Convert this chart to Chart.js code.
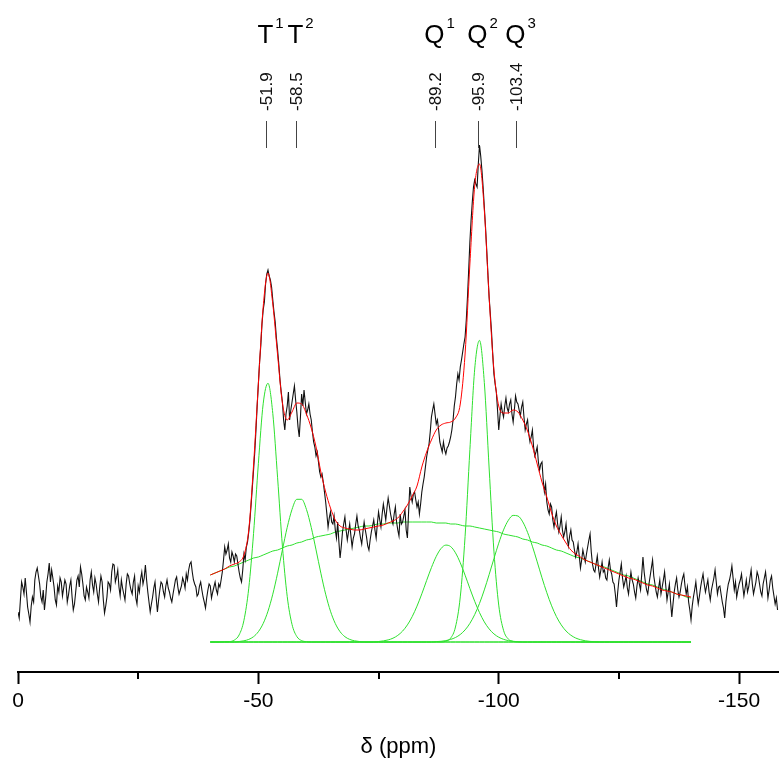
<!DOCTYPE html>
<html>
<head>
<meta charset="utf-8">
<script src="https://cdn.jsdelivr.net/npm/chart.js@4.4.1/dist/chart.umd.min.js"></script>
<style>
  html, body { margin: 0; padding: 0; background: #fff; }
  #wrap { width: 779px; height: 760px; }
</style>
</head>
<body>
<div id="wrap"><canvas id="nmr" width="779" height="760"></canvas></div>
<script>
var specStart = 0;
var specStep = -0.25;
var spectrum = [
  30, 24, 42, 60, 55, 48, 64, 50, 35, 28, 20, 36, 45, 40, 62, 70, 74, 66, 58, 45, 40, 52, 32, 44, 60, 68, 79, 60, 72, 64, 55, 42, 37, 56, 50, 64, 60, 46, 54, 62,
  58, 40, 47, 56, 62, 45, 32, 38, 50, 62, 66, 55, 75, 68, 58, 46, 42, 55, 50, 44, 62, 70, 57, 50, 64, 58, 48, 40, 55, 66, 60, 42, 29, 36, 45, 60, 58, 52, 70, 78,
  77, 60, 65, 72, 55, 46, 62, 54, 48, 42, 58, 68, 66, 58, 52, 48, 60, 66, 44, 38, 56, 50, 63, 70, 58, 64, 77, 62, 50, 40, 30, 38, 45, 54, 60, 44, 30, 42, 52, 60,
  58, 50, 45, 56, 62, 54, 50, 44, 40, 48, 55, 62, 65, 55, 48, 52, 56, 64, 60, 54, 68, 62, 72, 78, 80, 70, 62, 58, 55, 46, 48, 56, 60, 52, 45, 40, 34, 44, 52, 58,
  56, 44, 50, 55, 60, 52, 48, 58, 55, 62, 70, 82, 95, 88, 92, 98, 84, 80, 90, 86, 80, 88, 86, 78, 70, 64, 60, 72, 88, 82, 95, 100, 110, 122, 138, 155, 172, 190, 212, 236,
  258, 280, 296, 318, 332, 340, 358, 368, 372, 366, 362, 355, 342, 330, 320, 304, 292, 278, 262, 250, 240, 222, 212, 228, 236, 250, 222, 232, 240, 248, 256, 242, 230, 215, 205, 225, 248, 236, 252, 240,
  228, 232, 238, 228, 222, 210, 200, 195, 186, 190, 180, 170, 165, 168, 160, 150, 140, 128, 115, 124, 130, 120, 118, 126, 112, 104, 120, 100, 84, 96, 110, 118, 125, 112, 102, 110, 118, 106, 95, 104,
  108, 118, 126, 116, 112, 104, 98, 110, 120, 112, 105, 96, 92, 102, 110, 116, 122, 112, 104, 118, 130, 122, 115, 128, 138, 130, 122, 134, 144, 136, 128, 122, 118, 128, 135, 120, 112, 106, 128, 118,
  120, 126, 132, 112, 104, 130, 155, 146, 140, 148, 150, 142, 135, 140, 128, 138, 150, 158, 165, 175, 185, 192, 198, 210, 225, 232, 238, 228, 218, 222, 212, 200, 195, 190, 200, 192, 188, 194, 196, 200,
  205, 212, 222, 236, 245, 258, 268, 262, 275, 282, 290, 298, 305, 322, 345, 372, 400, 422, 440, 455, 462, 458, 455, 478, 497, 486, 472, 455, 435, 415, 392, 368, 345, 328, 310, 288, 268, 258, 250, 232,
  212, 226, 238, 230, 225, 236, 244, 234, 230, 238, 242, 228, 220, 232, 246, 240, 238, 232, 226, 235, 240, 225, 212, 218, 222, 208, 200, 205, 212, 195, 186, 190, 195, 180, 172, 178, 180, 162, 150, 158,
  140, 132, 128, 138, 135, 122, 115, 124, 130, 118, 110, 116, 125, 112, 105, 110, 118, 104, 96, 106, 112, 102, 100, 92, 85, 90, 98, 86, 74, 82, 92, 86, 80, 88, 95, 102, 108, 90, 78, 72,
  70, 78, 86, 74, 65, 72, 80, 70, 72, 64, 62, 74, 82, 72, 68, 60, 58, 48, 35, 50, 62, 70, 78, 64, 55, 60, 66, 54, 48, 60, 70, 62, 58, 50, 44, 56, 64, 58, 52, 68,
  85, 70, 60, 52, 48, 58, 66, 74, 82, 66, 58, 50, 45, 54, 62, 48, 55, 62, 70, 56, 42, 50, 58, 40, 25, 38, 50, 58, 64, 52, 45, 50, 58, 64, 68, 56, 48, 55, 40, 32,
  22, 36, 45, 52, 60, 48, 38, 46, 55, 62, 68, 58, 50, 56, 62, 50, 42, 52, 58, 64, 72, 60, 48, 55, 56, 48, 40, 34, 24, 40, 50, 58, 62, 68, 76, 64, 52, 60, 45, 52,
  58, 62, 68, 56, 46, 54, 62, 50, 55, 64, 72, 58, 48, 54, 60, 70, 66, 58, 50, 46, 58, 64, 70, 58, 44, 52, 62, 66, 54, 46, 38, 44, 32
];

var fitStart = -40;
var fitStep = -1;
var fitTotal = [
  67, 69, 71, 73, 76, 78, 80, 87, 112, 177,
  258, 335, 369, 338, 287, 239, 222, 230, 239, 238,
  228, 214, 195, 170, 150, 134, 122, 116, 114, 113,
  112, 112, 113, 114, 115, 116, 117, 119, 121, 124,
  130, 137, 146, 156, 175, 190, 202, 212, 217, 219,
  220, 224, 238, 288, 378, 456, 478, 432, 345, 272,
  236, 229, 229, 232, 230, 222, 211, 196, 178, 160,
  145, 129, 116, 107, 99, 92, 88, 85, 82, 80,
  78, 76, 74, 72, 70, 68, 66, 64, 63, 61,
  59, 57, 56, 54, 52, 51, 50, 48, 47, 46,
  45
];
var compBroad = [
  67, 69, 71, 73, 75, 76, 78, 80, 82, 84,
  85, 87, 89, 91, 92, 94, 96, 97, 99, 100,
  102, 103, 105, 106, 107, 108, 110, 111, 112, 113,
  114, 115, 116, 116, 117, 118, 118, 119, 119, 119,
  120, 120, 120, 120, 120, 120, 120, 119, 119, 119,
  118, 118, 117, 116, 116, 115, 114, 113, 112, 111,
  110, 108, 107, 106, 105, 103, 102, 100, 99, 97,
  96, 94, 92, 91, 89, 87, 85, 84, 82, 80,
  78, 76, 75, 73, 71, 69, 67, 66, 64, 62,
  60, 58, 57, 55, 53, 52, 50, 48, 47, 45,
  44
];
var compT1 = [
  0, 0, 0, 0.3, 0.4, 1.9, 7.1, 21.7, 53.8, 108.6,
  178.3, 238.2, 258.7, 228.6, 164.2, 96, 45.6, 17.6, 5.5, 1.4,
  0.3, 0, 0, 0, 0, 0, 0, 0, 0, 0,
  0, 0, 0, 0, 0, 0, 0, 0, 0, 0,
  0, 0, 0, 0, 0, 0, 0, 0, 0, 0,
  0, 0, 0, 0, 0, 0, 0, 0, 0, 0,
  0, 0, 0, 0, 0, 0, 0, 0, 0, 0,
  0, 0, 0, 0, 0, 0, 0, 0, 0, 0,
  0, 0, 0, 0, 0, 0, 0, 0, 0, 0,
  0, 0, 0, 0, 0, 0, 0, 0, 0, 0,
  0
];
var compT2 = [
  0, 0, 0, 0, 0, 0, 0.5, 1.2, 2.6, 5.3,
  10.3, 18.5, 30.8, 47.8, 68.8, 92.1, 114.6, 132.6, 142.7, 142.7,
  132.6, 114.6, 92.1, 68.8, 47.8, 30.8, 18.5, 10.3, 5.3, 2.6,
  1.2, 0.5, 0, 0, 0, 0, 0, 0, 0, 0,
  0, 0, 0, 0, 0, 0, 0, 0, 0, 0,
  0, 0, 0, 0, 0, 0, 0, 0, 0, 0,
  0, 0, 0, 0, 0, 0, 0, 0, 0, 0,
  0, 0, 0, 0, 0, 0, 0, 0, 0, 0,
  0, 0, 0, 0, 0, 0, 0, 0, 0, 0,
  0, 0, 0, 0, 0, 0, 0, 0, 0, 0,
  0
];
var compQ1 = [
  0, 0, 0, 0, 0, 0, 0, 0, 0, 0,
  0, 0, 0, 0, 0, 0, 0, 0, 0, 0,
  0, 0, 0, 0, 0, 0, 0, 0, 0, 0,
  0, 0, 0, 0, 0, 0.5, 1.1, 2.1, 3.8, 6.6,
  10.9, 17.1, 25.4, 35.9, 48.2, 61.5, 74.4, 85.6, 93.5, 96.9,
  95.4, 89.2, 79.2, 66.8, 53.5, 40.7, 29.4, 20.1, 13.1, 8.1,
  4.8, 2.7, 1.4, 0.7, 0.3, 0, 0, 0, 0, 0,
  0, 0, 0, 0, 0, 0, 0, 0, 0, 0,
  0, 0, 0, 0, 0, 0, 0, 0, 0, 0,
  0, 0, 0, 0, 0, 0, 0, 0, 0, 0,
  0
];
var compQ2 = [
  0, 0, 0, 0, 0, 0, 0, 0, 0, 0,
  0, 0, 0, 0, 0, 0, 0, 0, 0, 0,
  0, 0, 0, 0, 0, 0, 0, 0, 0, 0,
  0, 0, 0, 0, 0, 0, 0, 0, 0, 0,
  0, 0, 0, 0, 0, 0, 0, 0, 0, 0.8,
  3.9, 15, 45.1, 105.6, 192.3, 272.9, 301.6, 259.6, 174, 90.9,
  36.9, 11.7, 2.9, 0.6, 0, 0, 0, 0, 0, 0,
  0, 0, 0, 0, 0, 0, 0, 0, 0, 0,
  0, 0, 0, 0, 0, 0, 0, 0, 0, 0,
  0, 0, 0, 0, 0, 0, 0, 0, 0, 0,
  0
];
var compQ3 = [
  0, 0, 0, 0, 0, 0, 0, 0, 0, 0,
  0, 0, 0, 0, 0, 0, 0, 0, 0, 0,
  0, 0, 0, 0, 0, 0, 0, 0, 0, 0,
  0, 0, 0, 0, 0, 0, 0, 0, 0, 0,
  0, 0, 0, 0, 0, 0, 0, 0.4, 0.7, 1.4,
  2.6, 4.5, 7.5, 12.1, 18.6, 27.4, 38.6, 52.1, 67.4, 83.4,
  98.8, 112.1, 121.7, 126.6, 126, 120.1, 109.6, 95.8, 80.2, 64.2,
  49.3, 36.2, 25.4, 17.1, 11, 6.8, 4, 2.3, 1.2, 0.6,
  0.3, 0, 0, 0, 0, 0, 0, 0, 0, 0,
  0, 0, 0, 0, 0, 0, 0, 0, 0, 0,
  0
];

// axis ticks
var majorTicks = [-150, -100, -50, 0];
var minorTicks = [-125, -75, -25];

// peak assignments at the top
var peakNames = ['T', 'T', 'Q', 'Q', 'Q'];
var peakSups = ['1', '2', '1', '2', '3'];
var peakShifts = ['-51.9', '-58.5', '-89.2', '-95.9', '-103.4'];
var peakMarks = [-51.6, -57.8, -86.7, -95.6, -103.5];

var FONT = '"Liberation Sans", Arial, sans-serif';

function toPoints(values, start, step) {
    return values.map(function (v, i) {
        return { x: start + i * step, y: v };
    });
}

function greenSet(values) {
    return {
        data: toPoints(values, fitStart, fitStep),
        borderColor: '#2ee02e',
        borderWidth: 1,
        pointRadius: 0,
        cubicInterpolationMode: 'monotone',
        order: 3
    };
}

// minor ticks and the peak labels are drawn by hand
var extras = {
    id: 'extras',
    afterDraw: function (chart) {
        var ctx = chart.ctx;
        var xs = chart.scales.x;
        var axisY = chart.chartArea.bottom;
        ctx.save();
        ctx.strokeStyle = '#000';
        ctx.lineWidth = 2;
        minorTicks.forEach(function (v) {
            var px = Math.round(xs.getPixelForValue(v));
            ctx.beginPath();
            ctx.moveTo(px, axisY);
            ctx.lineTo(px, axisY + 7);
            ctx.stroke();
        });

        for (var i = 0; i < peakMarks.length; i++) {
            var px = Math.round(xs.getPixelForValue(peakMarks[i])) + 0.5;
            ctx.strokeStyle = '#444';
            ctx.lineWidth = 1;
            ctx.beginPath();
            ctx.moveTo(px, 121);
            ctx.lineTo(px, 148);
            ctx.stroke();

            ctx.save();
            ctx.translate(px, 111);
            ctx.rotate(-Math.PI / 2);
            ctx.font = '17px ' + FONT;
            ctx.fillStyle = '#111';
            ctx.textAlign = 'left';
            ctx.textBaseline = 'middle';
            ctx.fillText(peakShifts[i], 0, 1);
            ctx.restore();

            ctx.fillStyle = '#000';
            ctx.textAlign = 'left';
            ctx.textBaseline = 'alphabetic';
            ctx.font = '26px ' + FONT;
            var w1 = ctx.measureText(peakNames[i]).width;
            ctx.font = '15px ' + FONT;
            var w2 = ctx.measureText(peakSups[i]).width;
            var left = px + 4 - (w1 + 2 + w2) / 2;
            ctx.font = '26px ' + FONT;
            ctx.fillText(peakNames[i], left, 43);
            ctx.font = '15px ' + FONT;
            ctx.fillText(peakSups[i], left + w1 + 2, 28);
        }
        ctx.restore();
    }
};

var ctx = document.getElementById('nmr').getContext('2d');
var nmrChart = new Chart(ctx, {
    type: 'line',
    data: {
        datasets: [
            {
                data: toPoints(fitTotal, fitStart, fitStep),
                borderColor: '#ff0000',
                borderWidth: 1,
                pointRadius: 0,
                cubicInterpolationMode: 'monotone',
                order: 1
            },
            {
                data: toPoints(spectrum, specStart, specStep),
                borderColor: '#111',
                borderWidth: 1.1,
                pointRadius: 0,
                tension: 0,
                order: 2
            },
            greenSet(compBroad),
            greenSet(compT1),
            greenSet(compT2),
            greenSet(compQ1),
            greenSet(compQ2),
            greenSet(compQ3)
        ]
    },
    options: {
        responsive: false,
        animation: false,
        layout: { padding: { left: 18, right: 0, top: 0, bottom: 0 } },
        plugins: {
            legend: { display: false },
            tooltip: { enabled: false }
        },
        scales: {
            x: {
                type: 'linear',
                reverse: true,
                min: -158.3,
                max: 0,
                afterBuildTicks: function (scale) {
                    scale.ticks = majorTicks.concat(minorTicks)
                        .sort(function (a, b) { return a - b; })
                        .map(function (v) { return { value: v }; });
                },
                afterFit: function (scale) {
                    scale.height = 88;
                },
                grid: {
                    display: true,
                    drawOnChartArea: false,
                    drawTicks: true,
                    tickLength: 12,
                    tickWidth: 2,
                    tickColor: function (c) {
                        return majorTicks.indexOf(c.tick.value) >= 0 ? '#000' : 'rgba(0,0,0,0)';
                    }
                },
                border: { display: true, color: '#000', width: 2 },
                ticks: {
                    autoSkip: false,
                    maxRotation: 0,
                    padding: 5,
                    color: '#000',
                    font: { family: FONT, size: 21 },
                    callback: function (v) {
                        return majorTicks.indexOf(v) >= 0 ? String(v) : '';
                    }
                },
                title: {
                    display: true,
                    text: 'δ (ppm)',
                    color: '#000',
                    font: { family: FONT, size: 22 },
                    padding: { top: 0, bottom: 0 }
                }
            },
            y: {
                display: false,
                min: -30,
                max: 642
            }
        }
    },
    plugins: [extras]
});
</script>
</body>
</html>
